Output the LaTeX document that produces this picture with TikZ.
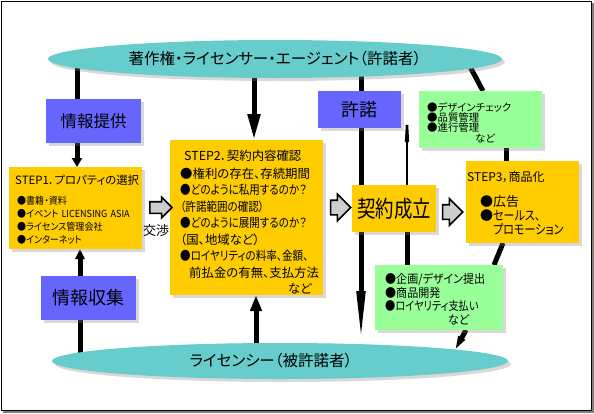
\documentclass[tikz,border=0pt]{standalone}
\usepackage{fontspec}
\newfontfamily\jpn{Noto Sans CJK JP}[RawFeature=+palt]
\newfontfamily\jpc{Noto Sans CJK JP}[RawFeature=+palt,FakeStretch=0.85]
\newfontfamily\jpd{Noto Sans CJK JP}[RawFeature=+palt,FakeStretch=0.92]
\newfontfamily\jpk{Noto Sans CJK JP}[RawFeature=+palt,FakeStretch=0.8]
\newcommand\tightlines{\lineskiplimit-5pt\relax}
\usetikzlibrary{shapes.geometric,shapes.arrows,shadows,arrows.meta,backgrounds}
\definecolor{ellcol}{RGB}{102,204,204}
\definecolor{boxyel}{RGB}{255,204,0}
\definecolor{boxblu}{RGB}{102,102,255}
\definecolor{boxgrn}{RGB}{153,255,153}
\definecolor{arrgray}{RGB}{205,205,205}
\tikzset{
  shad/.style={drop shadow={shadow xshift=3pt,shadow yshift=-3pt,opacity=0.3}},
  basebox/.style={rectangle,inner sep=0pt,outer sep=0pt,anchor=north west,shad},
  yellowbox/.style={basebox,fill=boxyel},
  bluebox/.style={basebox,fill=boxblu},
  greenbox/.style={basebox,fill=boxgrn},
  ellnode/.style={ellipse,fill=ellcol,inner sep=0pt,shad},
  conn/.style={line width=5pt,black},
  thinconn/.style={line width=2.5pt,black},
  blockarrow/.style={single arrow,draw=black,line width=1.6pt,fill=arrgray,inner xsep=0pt,single arrow head indent=0pt},
  txt/.style={inner sep=0pt,anchor=base west,align=left},
}
\begin{document}
\begin{tikzpicture}[x=1pt,y=-1pt]
\useasboundingbox (0,0) rectangle (594,413);
% column coordinates
\coordinate (cA) at (77,0);
\coordinate (cB) at (80,0);
\coordinate (cC) at (254,0);
\coordinate (cD) at (256,0);
\coordinate (cE) at (361,0);
\coordinate (cF) at (407,0);
\coordinate (cG) at (483,0);
\coordinate (cH) at (506,0);
\coordinate (cI) at (503,0);
\coordinate (cJ) at (494,0);
\coordinate (cK) at (466,0);
\coordinate (dG) at (467,61);
\coordinate (tipE) at (361,346);
\coordinate (tipF) at (407,82);
\coordinate (tipK) at (455,350);
% ellipses
\node[ellnode,minimum width=454pt,minimum height=38pt,font=\jpn\fontsize{15.5}{18}\selectfont] (top) at (275,59) {著作権・ライセンサー・エージェント（許諾者）};
\node[ellnode,minimum width=456pt,minimum height=36pt,font=\jpn\fontsize{15.5}{18}\selectfont] (bot) at (280,361) {\hspace*{-18pt}ライセンシー（被許諾者）};
% boxes
\node[bluebox,minimum width=95pt,minimum height=44pt,font=\jpn\fontsize{16.5}{18}\selectfont] (info1) at (46,99) {情報提供};
\node[bluebox,minimum width=95pt,minimum height=44pt,font=\jpn\fontsize{18}{20}\selectfont] (info2) at (41,276) {情報収集};
\node[bluebox,minimum width=83pt,minimum height=37pt,font=\jpn\fontsize{18}{20}\selectfont] (kyo) at (318,91) {許諾};
\node[yellowbox,minimum width=133pt,minimum height=82pt] (s1) at (9,167) {};
\node[yellowbox,minimum width=153pt,minimum height=155pt] (s2) at (170,140) {};
\node[yellowbox,minimum width=84pt,minimum height=47pt,font=\jpk\fontsize{23}{25}\selectfont] (kei) at (352,185) {契約成立};
\node[yellowbox,minimum width=113pt,minimum height=82pt] (s3) at (466,161) {};
\node[greenbox,minimum width=123pt,minimum height=57pt] (g1) at (419,91) {};
\node[greenbox,minimum width=128pt,minimum height=65pt] (g2) at (375,265) {};
% texts
\node[txt,font=\jpn\fontsize{11.4}{13}\selectfont] (s1t) at (15,184.5) {STEP1．プロパティの選択};
\node[txt,text width=130pt,font=\jpd\fontsize{9.8}{13.3}\selectfont] (s1b) at (17,204) {●書籍・資料\\●イベント LICENSING ASIA\\●ライセンス管理会社\\●インターネット};
\node[txt,font=\jpn\fontsize{12.4}{14}\selectfont] (s2t) at (184,160) {STEP2．契約内容確認};
\node[txt,text width=140pt,font=\jpn\fontsize{12.4}{16.5}\selectfont] (s2b) at (180,178) {●権利の存在、存続期間\\{\jpc ●どのように私用するのか？}\\{\jpc （許諾範囲の確認）}\\{\jpc ●どのように展開するのか？}\\（国、地域など）\\{\jpc ●ロイヤリティの料率、金額、}\\\hspace*{9pt}前払金の有無、支払方法\\\hspace*{108pt}など};
\node[txt,font=\jpn\fontsize{12}{14}\selectfont] (s3t) at (467,181.5) {STEP3，商品化};
\node[txt,text width=100pt,font=\jpn\fontsize{13}{14}\selectfont] (s3b) at (480,206) {●広告\\●{\jpc\fontsize{13}{14}\selectfont セールス、}\\\hspace*{13pt}{\jpc\fontsize{13}{14}\selectfont プロモーション}};
\node[txt,text width=120pt,font=\jpn\fontsize{10.4}{10.4}\selectfont\tightlines] (g1t) at (427,111) {●デザインチェック\\●品質管理\\●進行管理\\\hspace*{48pt}など};
\node[txt,text width=125pt,font=\jpd\fontsize{12}{13.7}\selectfont] (g2t) at (385,283.5) {●企画/デザイン提出\\●商品開発\\{\jpc ●ロイヤリティ支払い}\\\hspace*{63pt}など};
\node[txt,font=\jpn\fontsize{13}{14}\selectfont] (kosho) at (143,235) {交渉};
% block arrows
\node[blockarrow,minimum height=22pt,inner ysep=5pt,single arrow head extend=4.5pt] (ba1) at (158,207.5) {};
\node[blockarrow,minimum height=20pt,inner ysep=6.5pt,single arrow head extend=6pt] (ba2) at (337,207.5) {};
\node[blockarrow,minimum height=20pt,inner ysep=6.5pt,single arrow head extend=6pt] (ba3) at (449,212) {};
% connectors
\begin{scope}[on background layer]
\fill[white] (0,0) rectangle (594,413);
\draw[conn] (info1.north -| cA) -- (cA |- top.center);
\draw[conn,-{Triangle[length=9pt,width=10pt]}] (info1.south -| cA) -- (s1.north -| cA);
\draw[conn,-{Triangle[length=10pt,width=9pt]}] (info2.north -| cB) -- (s1.south -| cB);
\draw[conn] (info2.south -| cB) -- (cB |- bot.center);
\draw[conn,-{Triangle[length=26pt,width=12pt]}] (cC |- top.center) -- (s2.north -| cC);
\draw[conn,-{Triangle[length=16pt,width=11pt]}] (cD |- bot.center) -- (s2.south -| cD);
\draw[conn] (cE |- top.center) -- (kyo.north -| cE);
\draw[conn] (kyo.south -| cE) -- (kei.north -| cE);
\draw[conn,-{Triangle[length=55pt,width=8pt]}] (kei.south -| cE) -- (tipE);
\draw[thinconn,-{Triangle[length=60pt,width=3.5pt]}] (kei.north -| cF) -- (tipF);
\draw[conn] (kei.south -| cF) -- (g2.north -| cF);
\draw[conn] (dG) -- (g1.north -| cG);
\draw[conn] (g1.south -| cH) -- (s3.north -| cH);
\draw[conn] (s3.south -| cI) -- (g2.north -| cJ);
\draw[conn,-{Triangle[length=14pt,width=7pt]}] (g2.south -| cK) -- (tipK);
\end{scope}
% frame
\draw[gray,line width=2pt] (3,411.5) -- (593,411.5) -- (593,3);
\draw[black,line width=1pt] (1,1) rectangle (591,410);
\end{tikzpicture}
\end{document}
